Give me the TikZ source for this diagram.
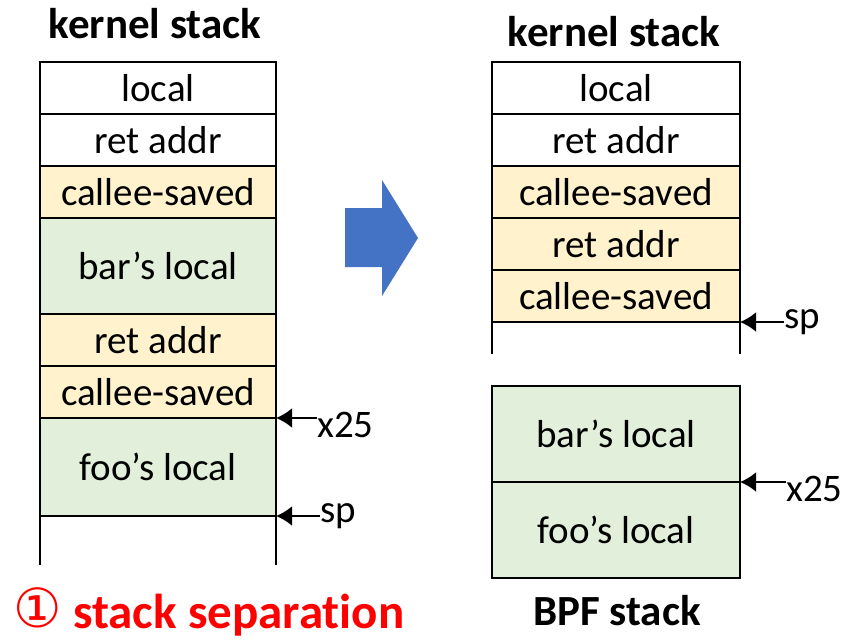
\documentclass[tikz,border=0pt]{standalone}
\usepackage{fontspec}
\setmainfont{Carlito}[Ligatures=NoCommon]
\newfontfamily\circledfont{DejaVu Sans}
\usetikzlibrary{arrows.meta}
\definecolor{savedfill}{HTML}{FFF2CC}
\definecolor{localfill}{HTML}{E2EFDA}
\definecolor{arrowblue}{HTML}{4472C4}
\definecolor{notered}{HTML}{FF0000}
\tikzset{
  cell/.style={draw=black,line width=2.4pt,inner sep=0pt,outer sep=0pt,anchor=north west,
    font=\fontsize{39}{46}\selectfont},
  lcell/.style={cell,minimum width=236pt},
  rcell/.style={cell,minimum width=248pt},
  short/.style={minimum height=52pt},
  plain/.style={fill=white},
  saved/.style={fill=savedfill},
  frame/.style={fill=localfill},
  title/.style={font=\fontsize{43}{50}\selectfont\bfseries,anchor=base},
  reglabel/.style={font=\fontsize{39}{46}\selectfont,anchor=west,inner sep=0pt},
  regpointer/.style={draw=black,line width=2.4pt,
    -{Latex[length=16pt,width=20pt]}},
  rail/.style={line width=2.4pt}
}
\begin{document}
\begin{tikzpicture}[x=1pt,y=-1pt]
\useasboundingbox (0,0) rectangle (843,642);

% ---- kernel stack before separation ----
\node[title] (ktitleA) at (155,39) {kernel stack};
\node[lcell,short,plain] (aLocal) at (40,62) {local};
\node[lcell,short,plain] (aRet) at (40,114) {ret addr};
\node[lcell,short,saved] (aSaved) at (40,166) {callee-saved};
\node[lcell,minimum height=96pt,frame] (aBar) at (40,218) {bar’s local};
\node[lcell,short,saved] (aRet2) at (40,314) {ret addr};
\node[lcell,short,saved] (aSaved2) at (40,366) {callee-saved};
\node[lcell,minimum height=98pt,frame] (aFoo) at (40,418) {foo’s local};
\coordinate (aRailL) at (40,565);
\coordinate (aRailR) at (276,565);
\draw[rail] (aFoo.south west) -- (aRailL);
\draw[rail] (aFoo.south east) -- (aRailR);

\node[reglabel] (aX25) at (317,425) {x25};
\draw[regpointer] (aX25.west |- aFoo.north east) -- (aFoo.north east);
\node[reglabel] (aSp) at (320,516) {sp};
\draw[regpointer] (aSp.west |- aFoo.south east) -- (aFoo.south east);

% ---- caption ----
\node[anchor=base west,inner sep=0pt,text=notered,
  font=\circledfont\fontsize{54}{56}\selectfont] (sepMark) at (13,627) {①};
\node[anchor=base west,inner sep=0pt,text=notered,
  font=\fontsize{49}{56}\selectfont\bfseries] (sepNote) at (73,628) {stack separation};

% ---- transition arrow ----
\fill[arrowblue] (345,208) -- (382,208) -- (382,180) -- (418,238)
  -- (382,296) -- (382,267) -- (345,267) -- cycle;

% ---- kernel stack after separation ----
\node[title] (ktitleB) at (614,47) {kernel stack};
\node[rcell,short,plain] (bLocal) at (492,62) {local};
\node[rcell,short,plain] (bRet) at (492,114) {ret addr};
\node[rcell,short,saved] (bSaved) at (492,166) {callee-saved};
\node[rcell,short,saved] (bRet2) at (492,218) {ret addr};
\node[rcell,short,saved] (bSaved2) at (492,270) {callee-saved};
\coordinate (bRailL) at (492,354);
\coordinate (bRailR) at (740,354);
\draw[rail] (bSaved2.south west) -- (bRailL);
\draw[rail] (bSaved2.south east) -- (bRailR);
\node[reglabel] (bSp) at (784,322) {sp};
\draw[regpointer] (bSp.west |- bSaved2.south east) -- (bSaved2.south east);

% ---- BPF stack ----
\node[rcell,minimum height=96pt,frame] (cBar) at (492,386) {bar’s local};
\node[rcell,minimum height=96pt,frame] (cFoo) at (492,482) {foo’s local};
\node[title] (bpfTitle) at (617,625) {BPF stack};
\node[reglabel] (cX25) at (786,489) {x25};
\draw[regpointer] (cX25.west |- cFoo.north east) -- (cFoo.north east);
\end{tikzpicture}
\end{document}
